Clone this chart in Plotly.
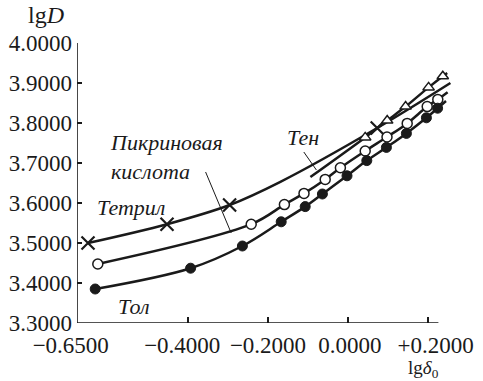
import plotly.graph_objects as go

# ---- values (x = lg delta0, y = lg D) ----
TETRYL_X = [-0.650, -0.4525, -0.296, 0.073]
TETRYL_Y = [3.500, 3.547, 3.595, 3.7875]
TETRYL_LINE_X = [-0.650, -0.4525, -0.296, -0.169, 0.073, 0.256]
TETRYL_LINE_Y = [3.500, 3.547, 3.595, 3.653, 3.7875, 3.900]

PICRIC_X = [-0.6255, -0.242, -0.159, -0.110, -0.057, -0.019, 0.043, 0.0975, 0.148, 0.198, 0.2245]
PICRIC_Y = [3.4475, 3.547, 3.596, 3.624, 3.659, 3.688, 3.730, 3.765, 3.799, 3.841, 3.859]
PICRIC_END = (0.249, 3.877)

TNT_X = [-0.632, -0.3935, -0.264, -0.167, -0.107, -0.064, -0.0025, 0.047, 0.096, 0.146, 0.196, 0.224]
TNT_Y = [3.385, 3.437, 3.4925, 3.553, 3.591, 3.6225, 3.668, 3.706, 3.739, 3.774, 3.813, 3.837]
TNT_END = (0.245, 3.855)

TEN_X = [0.043, 0.098, 0.144, 0.2015, 0.237]
TEN_Y = [3.764, 3.806, 3.841, 3.889, 3.917]
TEN_START = (-0.094, 3.665)
TEN_END = (0.248, 3.925)

# leader lines from the labels to the curves
PICRIC_POINTER_X = [-0.356, -0.292]
PICRIC_POINTER_Y = [3.6775, 3.525]
TEN_POINTER_X = [-0.1105, -0.079]
TEN_POINTER_Y = [3.7275, 3.6825]

Y_TICKS = [3.3, 3.4, 3.5, 3.6, 3.7, 3.8, 3.9, 4.0]
X_TICKS = [-0.65, -0.4, -0.2, 0.0, 0.2]
X_TICK_TEXT = ["−0.6500", "−0.4000", "−0.2000", "0.0000", "+0.2000"]
X_MINOR_TICKS = [-0.4, -0.2, 0.0, 0.2]

X_RANGE = [-0.6775, 0.26]
Y_RANGE = [3.3, 4.0]
X_AXIS_END = 0.226

SERIF = "Liberation Serif"
INK = "#1a1a1a"

# small nudges (en / sixth spaces) so labels lean the way the book's do,
# kept small enough that neighbouring labels don't collide
EN, SS = "\u2002", "\u2006"
X_TICK_PAD = [
    X_TICK_TEXT[0] + EN * 3,
    X_TICK_TEXT[1] + EN,
    X_TICK_TEXT[2],
    SS + X_TICK_TEXT[3],
    EN + SS + X_TICK_TEXT[4],
]

fig = go.Figure()

curve_line = dict(color=INK, width=2.5, shape="spline", smoothing=1.0)

# ---- curves ----
fig.add_trace(go.Scatter(
    x=TETRYL_LINE_X, y=TETRYL_LINE_Y, mode="lines", line=curve_line, hoverinfo="skip",
))
fig.add_trace(go.Scatter(
    x=PICRIC_X + [PICRIC_END[0]], y=PICRIC_Y + [PICRIC_END[1]],
    mode="lines", line=curve_line, hoverinfo="skip",
))
fig.add_trace(go.Scatter(
    x=TNT_X + [TNT_END[0]], y=TNT_Y + [TNT_END[1]],
    mode="lines", line=curve_line, hoverinfo="skip",
))
fig.add_trace(go.Scatter(
    x=[TEN_START[0]] + TEN_X + [TEN_END[0]], y=[TEN_START[1]] + TEN_Y + [TEN_END[1]],
    mode="lines", line=curve_line, hoverinfo="skip",
))

# ---- markers ----
fig.add_trace(go.Scatter(
    x=TETRYL_X, y=TETRYL_Y, mode="markers", name="Тетрил",
    marker=dict(symbol="x-thin-open", size=13, color=INK, line=dict(color=INK, width=2.2)),
))
fig.add_trace(go.Scatter(
    x=PICRIC_X, y=PICRIC_Y, mode="markers", name="Пикриновая кислота",
    marker=dict(symbol="circle", size=10, color="white", line=dict(color=INK, width=1.5)),
))
fig.add_trace(go.Scatter(
    x=TNT_X, y=TNT_Y, mode="markers", name="Тол",
    marker=dict(symbol="circle", size=10, color=INK, line=dict(color=INK, width=1)),
))
fig.add_trace(go.Scatter(
    x=TEN_X, y=TEN_Y, mode="markers", name="Тен",
    marker=dict(symbol="triangle-up", size=10, color="white", line=dict(color=INK, width=1.5)),
))

# ---- leader lines ----
for px, py in ((PICRIC_POINTER_X, PICRIC_POINTER_Y), (TEN_POINTER_X, TEN_POINTER_Y)):
    fig.add_trace(go.Scatter(
        x=px, y=py, mode="lines", line=dict(color=INK, width=1), hoverinfo="skip",
    ))

# ---- axis lines (the book stops the x axis short of the curves) ----
axis_line = dict(color=INK, width=1.6)
fig.add_shape(type="line", xref="x", yref="y", x0=X_RANGE[0], x1=X_AXIS_END,
              y0=Y_RANGE[0], y1=Y_RANGE[0], line=axis_line)
fig.add_shape(type="line", xref="x", yref="y", x0=X_RANGE[0], x1=X_RANGE[0],
              y0=Y_RANGE[0], y1=Y_RANGE[1], line=axis_line)

# ---- text labels ----
label_font = dict(family=SERIF, size=22, color=INK)
labels = [
    ("<i>Тетрил</i>", -0.543, 3.590, "center"),
    ("<i>Пикриновая<br>кислота</i>", -0.601, 3.714, "left"),
    ("<i>Тен</i>", -0.112, 3.765, "center"),
    ("<i>Тол</i>", -0.534, 3.3425, "center"),
]
for text, x, y, anchor in labels:
    fig.add_annotation(x=x, y=y, text=text, showarrow=False, xanchor=anchor,
                       yanchor="middle", align="left", font=label_font)

# axis names sit outside the plot area -> paper coords
fig.add_annotation(xref="paper", yref="paper", x=-0.083, y=1.10, text="lg<i>D</i>",
                   showarrow=False, xanchor="center", yanchor="middle",
                   font=dict(family=SERIF, size=24, color=INK))
fig.add_annotation(xref="paper", yref="paper", x=0.923, y=-0.163,
                   text="lg<i>δ</i><sub>0</sub>", showarrow=False,
                   xanchor="center", yanchor="middle",
                   font=dict(family=SERIF, size=19, color=INK))

fig.update_xaxes(
    range=X_RANGE, showgrid=False, zeroline=False, showline=False,
    tickvals=X_TICKS, ticktext=X_TICK_PAD, ticks="", tickangle=0, automargin=False,
    ticklabelstandoff=6,
    tickfont=dict(family=SERIF, size=23, color=INK),
    minor=dict(tickvals=X_MINOR_TICKS, ticks="inside", ticklen=6,
               tickwidth=1.5, tickcolor=INK),
)
fig.update_yaxes(
    range=Y_RANGE, showgrid=False, zeroline=False, showline=False, automargin=False,
    tickvals=Y_TICKS, tickformat=".4f", ticks="inside", ticklen=5,
    tickwidth=1.5, tickcolor=INK, ticklabelstandoff=4,
    tickfont=dict(family=SERIF, size=23, color=INK),
)
fig.update_layout(
    width=483, height=381,
    margin=dict(l=77, r=31, t=43, b=58),
    paper_bgcolor="white", plot_bgcolor="white",
    showlegend=False,
)

# the page's default 8px body margin would shift the whole figure
fig.write_html("out.html", config={"displayModeBar": False},
               post_script="document.body.style.margin='0';")
